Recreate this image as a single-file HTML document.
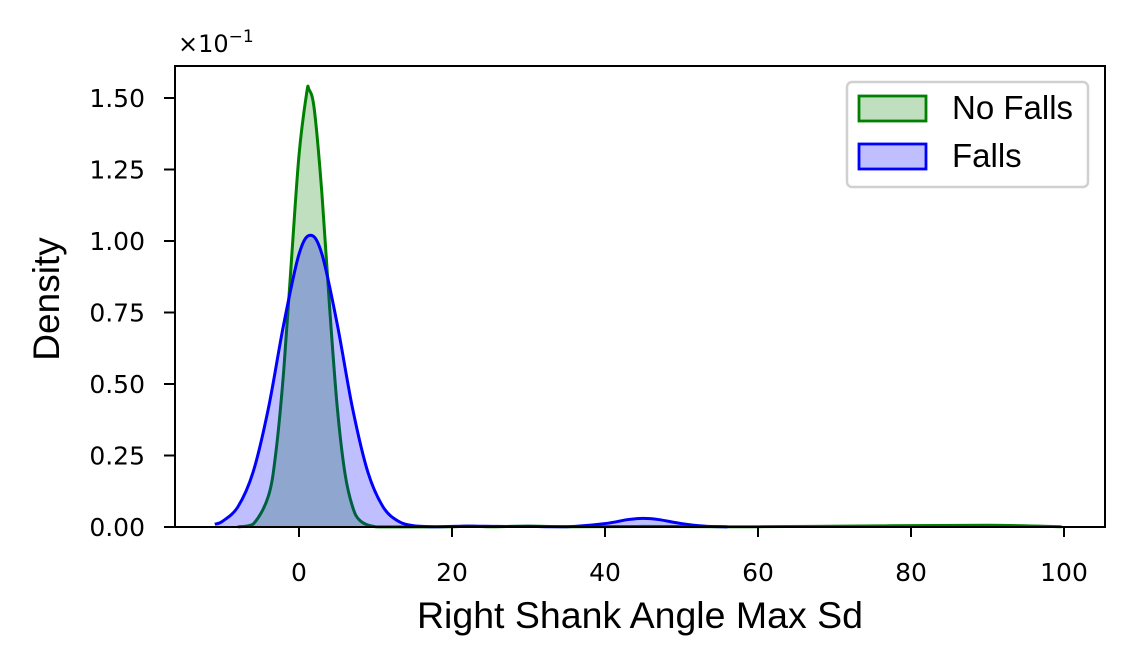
<!DOCTYPE html>
<html><head><meta charset="utf-8"><style>
body{margin:0;background:#fff;}
svg{display:block;font-family:"Liberation Sans","DejaVu Sans",sans-serif;}
</style></head><body>
<div style="position:relative;width:1134px;height:666px;">
<svg id="chart" width="1134" height="666" viewBox="0 0 1134 666" style="position:absolute;left:0;top:0;"></svg>
<svg width="1134" height="666" style="position:absolute;left:0;top:0;font-family:'Liberation Sans','DejaVu Sans',sans-serif;">
  <text x="178" y="52" font-size="24" font-family="DejaVu Sans, sans-serif">×10<tspan dy="-10" font-size="17">−1</tspan></text>
  <text x="640" y="628" text-anchor="middle" font-size="37.5">Right Shank Angle Max Sd</text>
  <text transform="translate(59,299) rotate(-90)" text-anchor="middle" font-size="37">Density</text>
  <g>
    <rect x="847" y="82" width="241" height="105" rx="5" fill="rgba(255,255,255,0.8)" stroke="#d0d0d0" stroke-width="2.5"/>
    <rect x="859" y="96" width="67" height="25" fill="rgba(0,128,0,0.25)" stroke="#008000" stroke-width="2.8"/>
    <text x="952" y="119" font-size="33">No Falls</text>
    <rect x="859" y="144" width="67" height="25" fill="rgba(0,0,255,0.25)" stroke="#0000ff" stroke-width="2.8"/>
    <text x="952" y="167" font-size="33">Falls</text>
  </g>
</svg>
</div>
<script>
const noFallsX = [-8,-6,-4,-3,-2,-1,0,1,1.3,2,3,4,5,6,7,8,10,14,20,22,25,30,35,45,60,76,90,99.7];
const noFallsY = [0.0004,0.010,0.108,0.266,0.546,0.928,1.30,1.517,1.53,1.46,1.164,0.768,0.419,0.189,0.071,0.022,0.001,0.0005,0.001,0.003,0.001,0.003,0.001,0.002,0.001,0.004,0.006,0.001];
const fallsX = [-11,-10,-8,-6,-4,-2,0,1.5,3,5,7,9,11,13,15,18,22,26,30,35,40,43,45,47,50,53,56];
const fallsY = [0.0098,0.020,0.070,0.192,0.415,0.709,0.954,1.02,0.954,0.709,0.415,0.192,0.070,0.020,0.0045,0.001,0.003,0.002,0.002,0.001,0.012,0.026,0.030,0.026,0.012,0.003,0.0005];
const xTicks = [0,20,40,60,80,100];
const yTicks = [0,0.25,0.5,0.75,1.0,1.25,1.5];
const yTickLabels = ["0.00","0.25","0.50","0.75","1.00","1.25","1.50"];

const L=175,R=1105,T=66,B=527;
const sx = v => 299 + v*7.65;
const sy = v => 527 - v*286;
const svg = document.getElementById('chart');
const NS='http://www.w3.org/2000/svg';
function mk(tag, attrs){const e=document.createElementNS(NS,tag);for(const k in attrs)e.setAttribute(k,attrs[k]);svg.appendChild(e);return e;}

function smoothPath(pts){
  let d='M'+pts[0][0].toFixed(2)+','+pts[0][1].toFixed(2);
  for(let i=0;i<pts.length-1;i++){
    const p0=pts[Math.max(0,i-1)],p1=pts[i],p2=pts[i+1],p3=pts[Math.min(pts.length-1,i+2)];
    const c1x=p1[0]+(p2[0]-p0[0])/6, c1y=p1[1]+(p2[1]-p0[1])/6;
    const c2x=p2[0]-(p3[0]-p1[0])/6, c2y=p2[1]-(p3[1]-p1[1])/6;
    d+=' C'+c1x.toFixed(2)+','+Math.min(B,c1y).toFixed(2)+' '+c2x.toFixed(2)+','+Math.min(B,c2y).toFixed(2)+' '+p2[0].toFixed(2)+','+p2[1].toFixed(2);
  }
  return d;
}
function series(xs, ys, fill, stroke, name){
  const pts=xs.map((x,i)=>[sx(x),sy(ys[i])]);
  const line=smoothPath(pts);
  const area=line+' L'+sx(xs[xs.length-1])+','+B+' L'+sx(xs[0])+','+B+' Z';
  const a=mk('path',{d:area,fill:fill,stroke:'none'});
  
  
  const l=mk('path',{d:line,fill:'none',stroke:stroke,'stroke-width':3,'stroke-linejoin':'round'});
  
  
}
series(noFallsX,noFallsY,'rgba(0,128,0,0.25)','#008000','no-falls');
series(fallsX,fallsY,'rgba(0,0,255,0.25)','#0000ff','falls');

const frame=mk('rect',{x:L,y:T,width:R-L,height:B-T,fill:'none',stroke:'#000','stroke-width':2});



xTicks.forEach(v=>{
  const t=mk('line',{x1:sx(v),x2:sx(v),y1:B,y2:B+10,stroke:'#000','stroke-width':2});
  
  
  const tx=mk('text',{x:sx(v),y:B+54,'text-anchor':'middle','font-size':25,'font-family':'DejaVu Sans, sans-serif'});
  tx.textContent=v;
  
  
});
yTicks.forEach((v,i)=>{
  const t=mk('line',{x1:L-11,x2:L,y1:sy(v),y2:sy(v),stroke:'#000','stroke-width':2});
  
  
  const tx=mk('text',{x:L-30,y:sy(v)+9,'text-anchor':'end','font-size':25,'font-family':'DejaVu Sans, sans-serif'});
  tx.textContent=yTickLabels[i];
  
  
});
</script>
</body></html>
